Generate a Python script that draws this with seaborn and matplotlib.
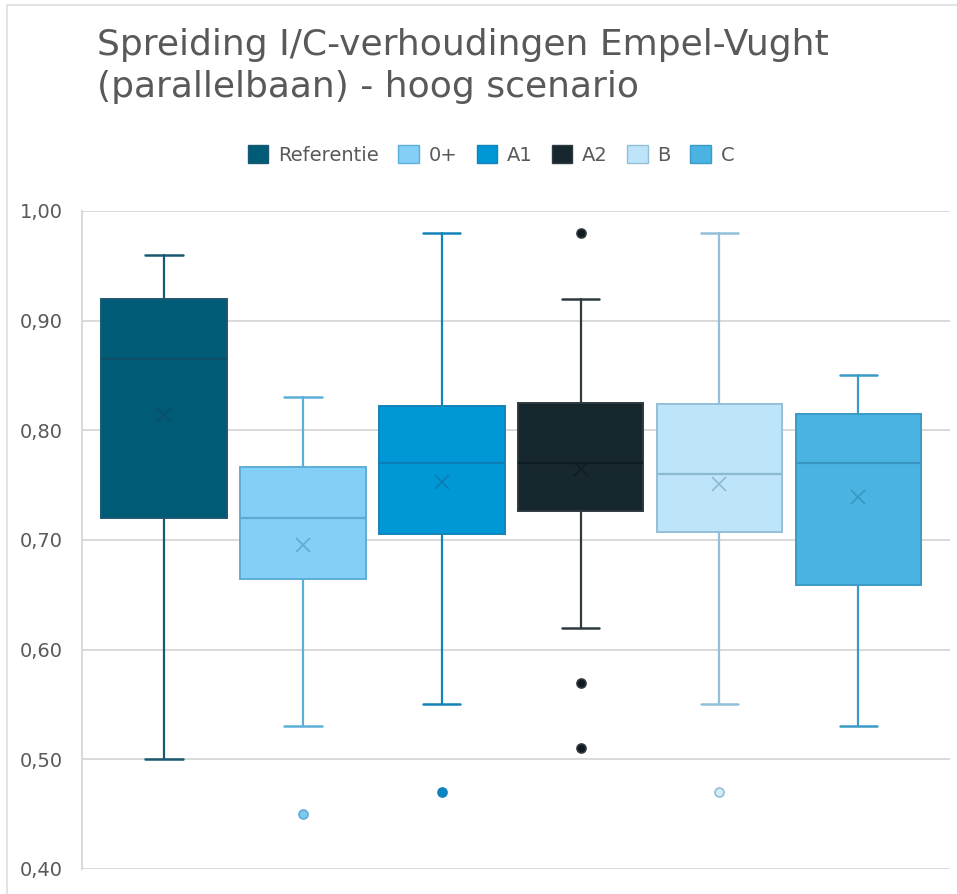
import matplotlib
matplotlib.use("Agg")
import matplotlib.pyplot as plt
from matplotlib.patches import Patch, Rectangle
from matplotlib.ticker import FuncFormatter
import seaborn as sns

# samenvattende statistieken per variant
variants = ["Referentie", "0+", "A1", "A2", "B", "C"]
whisker_low = [0.50, 0.53, 0.55, 0.62, 0.55, 0.53]
q1 = [0.72, 0.664, 0.705, 0.726, 0.707, 0.659]
median = [0.865, 0.72, 0.77, 0.77, 0.76, 0.77]
q3 = [0.92, 0.767, 0.822, 0.825, 0.824, 0.815]
whisker_high = [0.96, 0.83, 0.98, 0.92, 0.98, 0.85]
mean = [0.814, 0.695, 0.753, 0.765, 0.751, 0.739]
outliers = [[], [0.45], [0.47], [0.98, 0.57, 0.51], [0.47], []]

face = ["#005B77", "#83CFF6", "#0097D7", "#16272D", "#BDE4F8", "#4AB3E2"]
edge = ["#1B5872", "#5DAED8", "#1483BA", "#2E3A3F", "#93BFD8", "#3A9BC6"]
mid = ["#0E4E66", "#5FAAD2", "#0B7DB4", "#0F1D22", "#8DB9D3", "#3896C0"]
flier_face = ["#005B77", "#7CC8EF", "#0A86C4", "#111B1F", "#D4ECF8", "#4AB3E2"]

sns.set_theme(style="whitegrid")
plt.rcParams["font.family"] = ["DejaVu Sans"]

fig = plt.figure(figsize=(9.57, 8.94), dpi=100)
ax = fig.add_axes([0.0857, 0.028, 0.907, 0.736])

stats = []
for i, name in enumerate(variants):
    stats.append({
        "label": name,
        "whislo": whisker_low[i],
        "q1": q1[i],
        "med": median[i],
        "q3": q3[i],
        "whishi": whisker_high[i],
        "mean": mean[i],
        "fliers": outliers[i],
    })

for i, s in enumerate(stats):
    ax.bxp([s], positions=[i], widths=0.905, capwidths=0.27,
           showmeans=True, meanline=False, patch_artist=True,
           boxprops=dict(facecolor=face[i], edgecolor=edge[i], linewidth=1.4),
           whiskerprops=dict(color=edge[i], linewidth=1.6),
           capprops=dict(color=edge[i], linewidth=1.8),
           medianprops=dict(color=mid[i], linewidth=1.6),
           meanprops=dict(marker="x", markeredgecolor=mid[i], markersize=10,
                          markeredgewidth=1.2),
           flierprops=dict(marker="o", markerfacecolor=flier_face[i],
                           markeredgecolor=edge[i], markersize=6.5,
                           markeredgewidth=1.2))

ax.set_xlim(-0.59, 5.66)
ax.set_ylim(0.40, 1.00)
ax.set_yticks([0.4, 0.5, 0.6, 0.7, 0.8, 0.9, 1.0])
ax.yaxis.set_major_formatter(FuncFormatter(lambda v, _: f"{v:.2f}".replace(".", ",")))
ax.set_xticks([])
ax.tick_params(axis="y", labelsize=14, labelcolor="#595959", pad=14, length=0)
ax.grid(axis="y", color="#D9D9D9", linewidth=1.4)
ax.grid(axis="x", visible=False)
ax.set_facecolor("white")
for side in ["top", "right", "bottom"]:
    ax.spines[side].set_visible(False)
ax.spines["left"].set_color("#D9D9D9")
ax.spines["left"].set_linewidth(1.4)
ax.set_axisbelow(True)

fig.text(97 / 957, 1 - 28 / 894,
         "Spreiding I/C-verhoudingen Empel-Vught\n(parallelbaan) - hoog scenario",
         ha="left", va="top", fontsize=26, color="#595959", linespacing=1.3)

handles = [Patch(facecolor=face[i], edgecolor=edge[i], label=v) for i, v in enumerate(variants)]
fig.legend(handles=handles, loc="center", bbox_to_anchor=(491 / 957, 1 - 155 / 894),
           ncol=6, frameon=False, fontsize=14, handlelength=1.05, handleheight=1.05,
           columnspacing=1.0, handletextpad=0.5, labelcolor="#595959")

# lichte rand van het Excel-kader
fig.add_artist(Rectangle((7 / 957, -0.1), 1.2, 1 - 5 / 894 + 0.1, transform=fig.transFigure,
                         fill=False, edgecolor="#E3E3E3", linewidth=1.5))

fig.savefig("out.png", dpi=100)
